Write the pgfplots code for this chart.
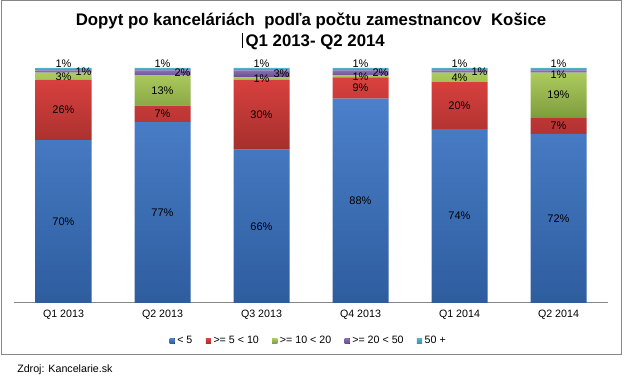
\documentclass[border=0pt]{standalone}
\usepackage{fontspec}
\setmainfont{Liberation Sans}
\usepackage{pgfplots}
\pgfplotsset{compat=1.18}
\usepackage{pgfplotstable}

\definecolor{bT}{HTML}{4B80CA}
\definecolor{bB}{HTML}{2E5D9F}
\definecolor{rT}{HTML}{D9413E}
\definecolor{rB}{HTML}{A52F2D}
\definecolor{gT}{HTML}{ABCB5F}
\definecolor{gB}{HTML}{7F9C3C}
\definecolor{pT}{HTML}{8A6DB2}
\definecolor{pB}{HTML}{654A8C}
\definecolor{cT}{HTML}{4FB3CE}
\definecolor{cB}{HTML}{3A90A8}
\definecolor{frame}{HTML}{868686}

\pgfplotstableread{
x a la b lb c lc d ld dd dy e le
0 69.3 70 25.7 26 3 3 1 1 20 0 1 1
1 77 77 7 7 13 13 2 2 20 0 1 1
2 65.3 66 29.7 30 1 1 3 3 20 0 1 1
3 87 88 9 9 1 1 2 2 20 0 1 1
4 74 74 20 20 4 4 1 1 20 0 1 1
5 72 72 7 7 19 19 1 1 0 -3 1 1
}\data

\begin{document}
\begin{tikzpicture}[x=0.75pt,y=0.75pt]
\fill[white] (0,0) rectangle (625,381);
\draw[color=frame, line width=0.75pt] (1,26) rectangle (621,380);
\node[font=\bfseries\fontsize{12.6}{15}\selectfont] at (311,360) {Dopyt po kanceláriách\ \ podľa počtu zamestnancov\ \ Košice};
\node[font=\bfseries\fontsize{12.6}{15}\selectfont] at (313.5,339.5) {\rule[-1.5pt]{0.6pt}{11.25pt}\hspace{2pt}Q1 2013- Q2 2014};
\node[anchor=west, font=\fontsize{8}{9}\selectfont, inner sep=0pt] at (17,11) {Zdroj: Kancelarie.sk};
\begin{axis}[
  at={(10.5pt,58.5pt)}, anchor=south west,
  scale only axis, width=445.5pt, height=176.25pt,
  ybar stacked, bar width=42pt,
  xmin=-0.5, xmax=5.5, ymin=0, ymax=100,
  clip=false,
  hide y axis,
  axis x line*=bottom,
  x axis line style={draw=frame, line width=0.75pt, -},
  xtick={0,1,2,3,4,5},
  xticklabels={Q1 2013,Q2 2013,Q3 2013,Q4 2013,Q1 2014,Q2 2014},
  xtick style={draw=none},
  xticklabel style={font=\fontsize{8}{9}\selectfont, anchor=center, yshift=-9pt},
  legend columns=-1,
  legend style={at={(axis description cs:0.5,0)}, anchor=center, xshift=-1.5pt, yshift=-28.5pt,
    draw=none, fill=none, font=\fontsize{8}{9}\selectfont,
    /tikz/every even column/.append style={column sep=8pt}},
  legend image code/.code={\fill[#1] (0pt,-1.9pt) rectangle (3.8pt,1.9pt);},
  every node near coord/.append style={font=\fontsize{8.25}{9}\selectfont, text=black},
]
\addplot[top color=bT, bottom color=bB, draw=none,
  point meta=explicit symbolic, nodes near coords={\pgfplotspointmeta\%},
  every node near coord/.append style={anchor=center}]
  table[x=x, y=a, meta=la]{\data};
\addlegendentry{< 5}
\addplot[top color=rT, bottom color=rB, draw=none,
  point meta=explicit symbolic, nodes near coords={\pgfplotspointmeta\%},
  every node near coord/.append style={anchor=center}]
  table[x=x, y=b, meta=lb]{\data};
\addlegendentry{>= 5 < 10}
\addplot[top color=gT, bottom color=gB, draw=none,
  point meta=explicit symbolic, nodes near coords={\pgfplotspointmeta\%},
  every node near coord/.append style={anchor=center}]
  table[x=x, y=c, meta=lc]{\data};
\addlegendentry{>= 10 < 20}
\addplot[top color=pT, bottom color=pB, draw=none,
  point meta=explicit symbolic, nodes near coords={\pgfplotspointmeta\%},
  visualization depends on={\thisrow{dd} \as \dx},
  visualization depends on={\thisrow{dy} \as \dy},
  every node near coord/.append style={anchor=center, xshift={0.75pt*\dx}, yshift={0.75pt*\dy}}]
  table[x=x, y=d, meta=ld]{\data};
\addlegendentry{>= 20 < 50}
\addplot[top color=cT, bottom color=cB, draw=none,
  point meta=explicit symbolic, nodes near coords={\pgfplotspointmeta\%},
  every node near coord/.append style={anchor=south, inner sep=1pt}]
  table[x=x, y=e, meta=le]{\data};
\addlegendentry{50 +}
\end{axis}
\end{tikzpicture}
\end{document}
